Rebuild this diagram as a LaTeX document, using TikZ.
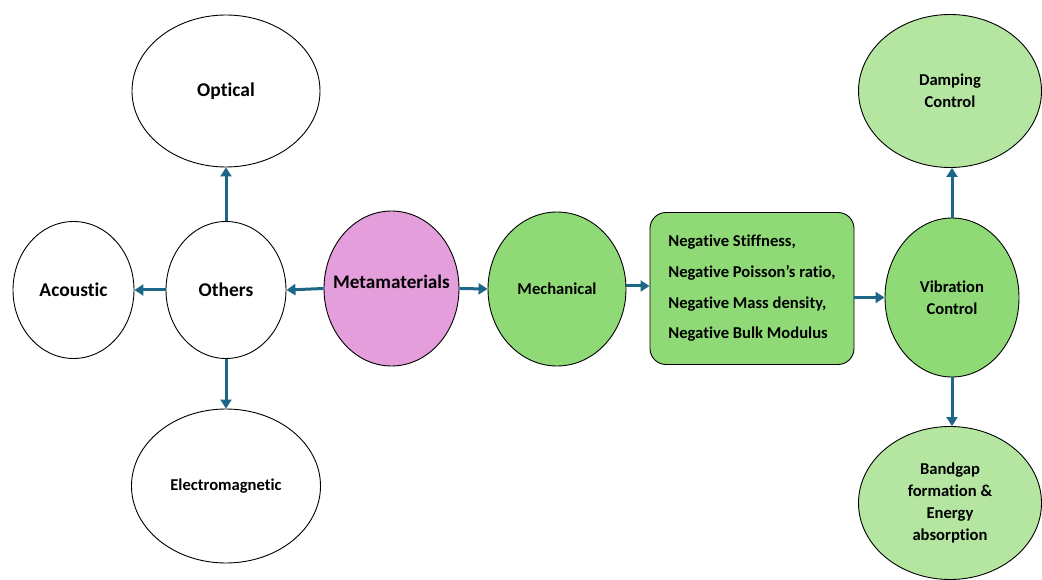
\documentclass[tikz,border=0pt]{standalone}
\usepackage{fontspec}
\setmainfont{Carlito}[Ligatures={NoCommon,NoRare,NoContextual}]
\usetikzlibrary{shapes.geometric,arrows.meta}
\definecolor{pinkfill}{HTML}{E49EDC}
\definecolor{greenfill}{HTML}{8FDA76}
\definecolor{lightgreen}{HTML}{B4E6A2}
\definecolor{arrowblue}{HTML}{1D6688}
\tikzset{
  oval/.style={ellipse, draw=black, line width=0.9pt, inner sep=0pt, font=\bfseries},
  bigtxt/.style={font=\fontsize{19.5}{22}\selectfont\bfseries},
  smalltxt/.style={font=\fontsize{16.6}{22}\selectfont\bfseries},
  conn/.style={draw=arrowblue, line width=3pt, -{Triangle[length=9pt,width=11pt]}},
}
\begin{document}
\begin{tikzpicture}[x=1pt,y=-1pt]
\useasboundingbox (0,0) rectangle (1042,580);
% left group
\node[oval, fill=white, minimum width=188, minimum height=152, bigtxt] (optical) at (226,91) {Optical};
\node[oval, fill=white, minimum width=121, minimum height=137, bigtxt] (acoustic) at (73.5,290) {Acoustic};
\node[oval, fill=white, minimum width=120, minimum height=137, bigtxt] (others) at (226,290) {Others};
\node[oval, fill=white, minimum width=189, minimum height=154, smalltxt] (electro) at (226,486) {Electromagnetic};
% center
\node[oval, fill=pinkfill, minimum width=135, minimum height=155] (meta) at (391.5,288.5) {};
\node[font=\fontsize{19.2}{22}\selectfont\bfseries, inner sep=0pt] (metalabel) at (391.5,282) {Metamaterials};
\node[oval, fill=greenfill, minimum width=138, minimum height=154, smalltxt] (mech) at (557,289) {Mechanical};
\node[draw=black, line width=0.9pt, fill=greenfill, rounded corners=16pt, minimum width=204, minimum height=152, inner sep=0pt,
      align=left, font=\fontsize{16.6}{30.7}\selectfont\bfseries] (box) at (752,288.5)
  {Negative Stiffness,\\Negative Poisson’s ratio,\\Negative Mass density,\\Negative Bulk Modulus};
% right group
\node[oval, fill=greenfill, minimum width=134, minimum height=159, smalltxt, align=center] (vib) at (952,297.5) {Vibration\\Control};
\node[oval, fill=lightgreen, minimum width=183, minimum height=153, smalltxt, align=center] (damp) at (950,91) {Damping\\Control};
\node[oval, fill=lightgreen, minimum width=183, minimum height=153, smalltxt, align=center] (band) at (950,503) {Bandgap\\formation \&\\Energy\\absorption};
% connectors
\draw[conn] (others.north) -- (optical.south);
\draw[conn] (others.south) -- (electro.north);
\draw[conn] (others.west) -- (acoustic.east);
\draw[conn] (meta.west) -- (others.east);
\draw[conn] (meta.east) -- (mech.west);
\draw[conn] ([yshift=3pt]mech.east) -- ([yshift=3pt]mech.east -| box.west);
\draw[conn] (box.east |- vib.west) -- (vib.west);
\draw[conn] (vib.north) -- (vib.north |- damp.south);
\draw[conn] (vib.south) -- (vib.south |- band.north);
\end{tikzpicture}
\end{document}
